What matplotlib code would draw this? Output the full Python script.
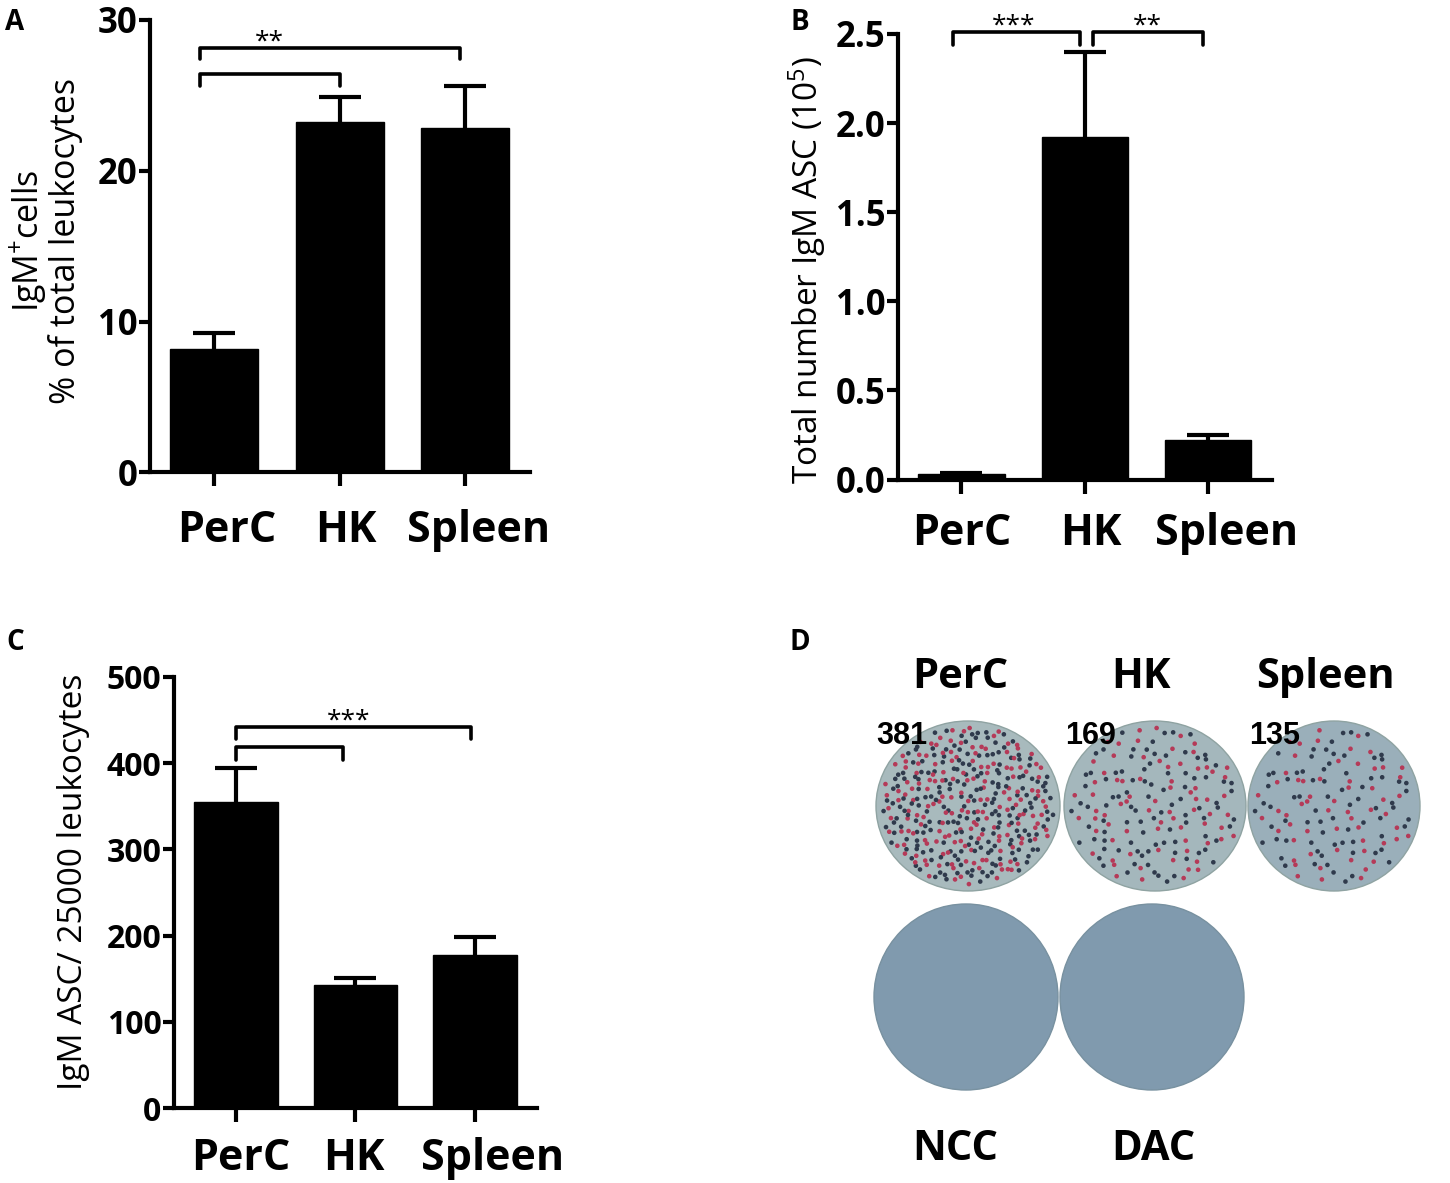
import matplotlib
matplotlib.use("Agg")
import matplotlib.pyplot as plt
from matplotlib.patches import Ellipse
import numpy as np

plt.rcParams["font.family"] = ["Open Sans", "DejaVu Sans"]
plt.rcParams["mathtext.fontset"] = "custom"
plt.rcParams["mathtext.rm"] = "Open Sans"
plt.rcParams["mathtext.default"] = "regular"

# ---- data ----
categories = ["PerC", "HK", "Spleen"]

a_mean = [8.2, 23.2, 22.85]
a_err = [1.05, 1.7, 2.75]

b_mean = [0.03, 1.92, 0.22]
b_err = [0.005, 0.48, 0.03]

c_mean = [355, 143, 178]
c_err = [39, 8, 20]

# significance brackets: (x0, x1, y_line, y_leg)
a_brackets = [(-0.11, 1.96, 28.15, 27.4), (-0.11, 1.0, 26.4, 25.6)]
a_stars = [(0.44, 28.1, "**")]
b_brackets = [(-0.07, 0.96, 2.51, 2.44), (1.07, 1.96, 2.51, 2.44)]
b_stars = [(0.42, 2.51, "***"), (1.51, 2.51, "**")]
c_brackets = [(0.0, 1.97, 442, 428), (0.0, 0.9, 418, 404)]
c_stars = [(0.94, 441, "***")]

# panel D: ELISpot wells
top_wells = ["PerC", "HK", "Spleen"]
top_counts = [381, 169, 135]
bottom_wells = ["NCC", "DAC"]

W, H = 1450, 1183
fig = plt.figure(figsize=(W / 100, H / 100), dpi=100)


def px_axes(left, right, top, bottom):
    return fig.add_axes([left / W, 1 - bottom / H, (right - left) / W, (bottom - top) / H])


def bar_panel(ax, means, errs, xlim, ylim, yticks, fmt, tick_size, brackets, stars,
              label_pad, label_dx):
    x = np.arange(len(categories))
    ax.bar(x, means, width=0.70, color="black", edgecolor="black", zorder=2)
    eb = ax.errorbar(x, means, yerr=[[0] * len(errs), errs], fmt="none", ecolor="black",
                     elinewidth=3, capsize=15, capthick=3, zorder=1)
    eb[1][0].set_visible(False)  # no lower caps
    ax.set_xlim(*xlim)
    ax.set_ylim(*ylim)
    ax.set_yticks(yticks)
    ax.set_yticklabels([fmt % v for v in yticks], fontsize=tick_size, fontweight="bold")
    ax.set_xticks(x)
    ax.set_xticklabels([])
    # category names, nudged like in the original figure
    for xi, cat, dx in zip(x, categories, label_dx):
        ax.annotate(cat, (xi, 0), xycoords=("data", "axes fraction"),
                    xytext=(dx * 0.72, -(10 + label_pad)), textcoords="offset points",
                    ha="center", va="top", fontsize=31, fontweight="bold", annotation_clip=False)
    for s in ["top", "right"]:
        ax.spines[s].set_visible(False)
    for s in ["left", "bottom"]:
        ax.spines[s].set_linewidth(3)
    ax.tick_params(axis="y", length=8, width=3, pad=1)
    ax.tick_params(axis="x", length=10, width=3)
    for x0, x1, yl, yg in brackets:
        ax.plot([x0, x0, x1, x1], [yg, yl, yl, yg], color="black", lw=2.6,
                solid_capstyle="round", solid_joinstyle="round", clip_on=False)
    for sx, sy, st in stars:
        ax.text(sx, sy, st, fontsize=19, ha="center", va="baseline")


# ---- A ----
ax_a = px_axes(150, 530, 19.6, 472.5)
bar_panel(ax_a, a_mean, a_err, (-0.512, 2.515), (0, 30), [0, 10, 20, 30], "%d", 25,
          a_brackets, a_stars, 16, [12, 6, 13])
fig.text(28.6 / W, 1 - 241 / H, r"IgM$^{+}$cells", rotation=90, ha="center", va="center", fontsize=24.5)
fig.text(66 / W, 1 - 241 / H, "% of total leukocytes", rotation=90, ha="center", va="center", fontsize=24.5)

# ---- B ----
ax_b = px_axes(898, 1272, 33.9, 479.6)
bar_panel(ax_b, b_mean, b_err, (-0.515, 2.52), (0, 2.5), [0.0, 0.5, 1.0, 1.5, 2.0, 2.5], "%.1f", 25,
          b_brackets, b_stars, 13, [0, 6, 19])
fig.text(807 / W, 1 - 270 / H, r"Total number IgM ASC (10$^{5}$)", rotation=90,
         ha="center", va="center", fontsize=24)

# ---- C ----
ax_c = px_axes(174, 537, 676.7, 1108.3)
bar_panel(ax_c, c_mean, c_err, (-0.519, 2.52), (0, 500), [0, 100, 200, 300, 400, 500], "%d", 23,
          c_brackets, c_stars, 11, [5, -2, 18])
fig.text(74 / W, 1 - 882 / H, "IgM ASC/ 25000 leukocytes", rotation=90,
         ha="center", va="center", fontsize=24)

# panel letters
for lx, ly, lt in [(15, 22, "A"), (800, 22, "B"), (15, 643, "C"), (800, 643, "D")]:
    fig.text(lx / W, 1 - ly / H, lt, fontsize=20, fontweight="bold", ha="center", va="center")

# ---- D : wells drawn in pixel coordinates ----
ax_d = fig.add_axes([780 / W, 0, (W - 780) / W, (H - 620) / H])
ax_d.set_xlim(780, W)
ax_d.set_ylim(H, 620)
ax_d.axis("off")


def halton(i, b):
    f, r = 1.0, 0.0
    while i > 0:
        f /= b
        r += f * (i % b)
        i //= b
    return r


top_centres = [968, 1155, 1334]
top_rx = [92, 91, 86]
top_fill = ["#a8babd", "#a4b7bc", "#9aafba"]
title_x = [960, 1141, 1325]
number_x = [876, 1065, 1249]
for k, (name, n) in enumerate(zip(top_wells, top_counts)):
    cx, cy, rx, ry = top_centres[k], 806, top_rx[k], 85
    ax_d.add_patch(Ellipse((cx, cy), 2 * rx, 2 * ry, facecolor=top_fill[k],
                           edgecolor="#8fa3a2", lw=1.0, zorder=1))
    idx = np.arange(1, n + 1) + 17 * (k + 1)
    u = np.array([halton(i, 2) for i in idx])
    v = np.array([halton(i, 3) for i in idx])
    w = np.array([halton(i, 5) for i in idx])
    r = 0.94 * np.sqrt(u)
    sx = cx + rx * r * np.cos(2 * np.pi * v)
    sy = cy + ry * r * np.sin(2 * np.pi * v)
    cols = np.where(w < 0.55, "#2f3a4c", "#b53a58")
    ax_d.scatter(sx, sy, s=11, c=cols, linewidths=0, zorder=2)
    ax_d.text(title_x[k], 677, name, fontsize=30, fontweight="bold", ha="center", va="center")
    ax_d.text(number_x[k], 736, str(n), fontsize=22, fontweight="bold", ha="left", va="center",
              family=["Liberation Sans", "DejaVu Sans"], zorder=3)

bottom_centres = [966, 1152]
bottom_labels_x = [955, 1153]
for k, name in enumerate(bottom_wells):
    ax_d.add_patch(Ellipse((bottom_centres[k], 997), 2 * 92, 2 * 93, facecolor="#809aae",
                           edgecolor="#7891a0", lw=1.0, zorder=1))
    ax_d.text(bottom_labels_x[k], 1150, name, fontsize=30, fontweight="bold", ha="center", va="center")

fig.savefig("out.png", dpi=100)
